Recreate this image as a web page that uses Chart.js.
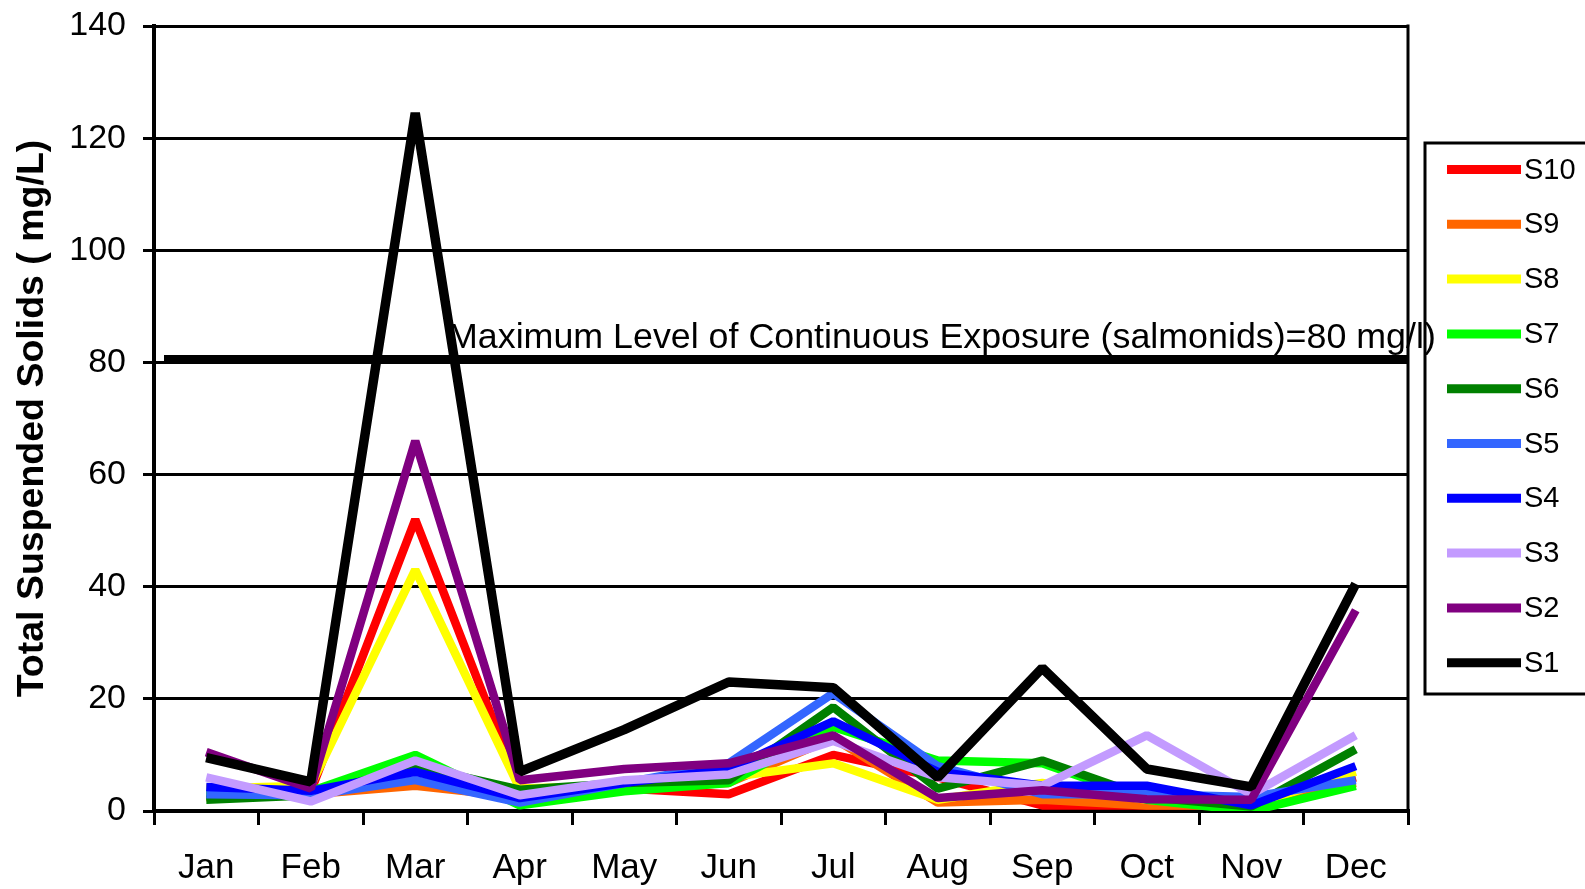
<!DOCTYPE html>
<html><head><meta charset="utf-8">
<script src="https://cdn.jsdelivr.net/npm/chart.js@4.4.1/dist/chart.umd.min.js"></script>
<style>html,body{margin:0;padding:0;background:#fff;overflow:hidden}canvas{display:block}</style>
</head><body>
<canvas id="c" width="1585" height="889"></canvas>
<script>
const months = ['Jan','Feb','Mar','Apr','May','Jun','Jul','Aug','Sep','Oct','Nov','Dec'];
const s1  = [9.5, 5.2, 124.5, 7, 14.5, 23, 22, 6, 25.5, 7.5, 4.3, 40.5];
const s2  = [10.5, 4, 66, 5.5, 7.5, 8.5, 13.5, 2.3, 3.7, 2.1, 2, 35.8];
const s3  = [6, 1.7, 9, 2.8, 5.5, 6.5, 12.5, 6, 4.5, 13.5, 3, 13.5];
const s4  = [4.3, 3.6, 7, 2.3, 5, 7.5, 16, 7, 4.5, 4.5, 1, 8];
const s5  = [3, 2.8, 5.5, 1.5, 5, 8.5, 21, 8, 3, 3, 2.5, 5.5];
const s6  = [2, 2.8, 8, 3.8, 5, 5.5, 18.5, 4, 9, 2.5, 0.8, 11];
const s7  = [2.7, 3.5, 10, 1, 3.5, 5, 15, 9, 8.5, 2, 0, 4.5];
const s8  = [4, 4.5, 43, 4, 4.5, 6, 8.5, 2, 5, 2, 1, 7];
const s9  = [2.5, 3, 4.5, 2.5, 4, 5, 13, 1.5, 2, 1, 1, 5];
const s10 = [3, 3.5, 52, 4, 4, 3, 10, 6, 1, 1, 1, 6];
const seriesNames  = ['S1','S2','S3','S4','S5','S6','S7','S8','S9','S10'];
const seriesValues = [s1, s2, s3, s4, s5, s6, s7, s8, s9, s10];
const seriesColors = ['#000000','#800080','#C39BFF','#0000FF','#3366FF','#008000','#00FF00','#FFFF00','#FF6600','#FF0000'];
const yMin = 0, yMax = 140, yStep = 20;
const thresholdValue = 80.6;
const thresholdLabel = 'Maximum Level of Continuous Exposure (salmonids)=80 mg/l)';
const yTitle = 'Total Suspended Solids ( mg/L)';

const FONT = "'Liberation Sans', Arial, sans-serif";

const framePlugin = {
  id: 'frame',
  afterDatasetsDraw(chart) {
    const {ctx, chartArea: a, scales} = chart;
    ctx.save();
    ctx.strokeStyle = '#000'; ctx.lineWidth = 3;
    ctx.beginPath(); ctx.moveTo(a.right, a.top - 1.5); ctx.lineTo(a.right, a.bottom); ctx.stroke();
    const yT = scales.y.getPixelForValue(thresholdValue);
    ctx.lineWidth = 8;
    ctx.beginPath(); ctx.moveTo(a.left + 10, yT); ctx.lineTo(a.right, yT); ctx.stroke();
    ctx.restore();
  },
  afterDraw(chart) {
    const {ctx, chartArea: a, scales} = chart;
    const ds = chart.data.datasets;
    const boxLeft = a.right + 17;
    const boxH = 551;
    const boxTop = (a.top + a.bottom) / 2 - boxH / 2;
    ctx.save();
    ctx.strokeStyle = '#000'; ctx.lineWidth = 3;
    ctx.strokeRect(boxLeft, boxTop, 300, boxH);
    const step = 54.8;
    ctx.font = '29px ' + FONT;
    ctx.textAlign = 'left'; ctx.textBaseline = 'middle';
    for (let i = 0; i < ds.length; i++) {
      const d = ds[ds.length - 1 - i];
      const y = boxTop + 26.5 + i * step;
      ctx.strokeStyle = d.borderColor; ctx.lineWidth = 9; ctx.lineCap = 'butt';
      ctx.beginPath(); ctx.moveTo(boxLeft + 22, y); ctx.lineTo(boxLeft + 96, y); ctx.stroke();
      ctx.fillStyle = '#000';
      ctx.fillText(d.label, boxLeft + 99, y + 1);
    }
    // threshold label (drawn last, overlapping the legend border like the original)
    const yT = scales.y.getPixelForValue(thresholdValue);
    ctx.fillStyle = '#000';
    ctx.font = '35.8px ' + FONT;
    ctx.textAlign = 'left'; ctx.textBaseline = 'alphabetic';
    ctx.fillText(thresholdLabel, a.left + 294, yT - 11);
    ctx.restore();
  }
};

new Chart(document.getElementById('c'), {
  type: 'line',
  data: {
    labels: months,
    datasets: seriesNames.map((n, i) => ({
      label: n,
      data: seriesValues[i],
      borderColor: seriesColors[i],
      backgroundColor: seriesColors[i],
      borderWidth: i === 0 ? 9.5 : 8.5,
      borderJoinStyle: 'bevel',
      pointRadius: 0,
      pointHoverRadius: 0,
      tension: 0,
      fill: false
    }))
  },
  options: {
    responsive: false,
    animation: false,
    devicePixelRatio: 1,
    layout: { padding: { top: 26, right: 177, left: 0, bottom: 0 } },
    plugins: { legend: { display: false }, tooltip: { enabled: false } },
    scales: {
      x: {
        offset: true,
        afterFit(scale) { scale.height = 78; },
        grid: { offset: true, drawOnChartArea: false, drawTicks: true, tickLength: 14, color: '#000', lineWidth: 3 },
        border: { display: true, color: '#000', width: 4 },
        ticks: { color: '#000', font: { family: FONT, size: 35 }, padding: 22, maxRotation: 0, autoSkip: false }
      },
      y: {
        min: yMin, max: yMax,
        afterFit(scale) { scale.width = 154; scale.paddingTop = 0; scale.paddingBottom = 0; },
        grid: { color: '#000', lineWidth: 3, tickLength: 11, drawTicks: true },
        border: { display: true, color: '#000', width: 4 },
        ticks: { stepSize: yStep, color: '#000', font: { family: FONT, size: 34 }, padding: 17 },
        title: { display: true, text: yTitle, color: '#000', font: { family: FONT, size: 37.5, weight: 'bold' }, padding: { top: 10, bottom: 10 } }
      }
    }
  },
  plugins: [framePlugin]
});
</script>
</body></html>
